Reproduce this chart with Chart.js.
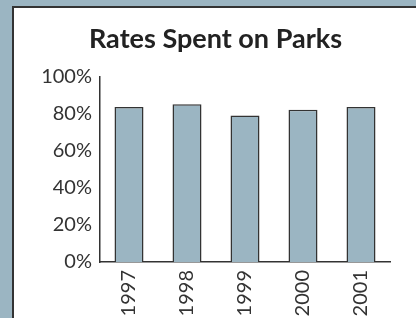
<!DOCTYPE html>
<html>
<head>
<meta charset="utf-8">
<script src="https://cdn.jsdelivr.net/npm/chart.js@4"></script>
<style>
  html, body { margin: 0; padding: 0; }
  body { width: 416px; height: 318px; background: #9bb5c2; overflow: hidden; position: relative; }
  #panel {
    position: absolute; left: 12px; top: 6px;
    width: 404px; height: 312px;
    background: #fff;
    border-left: 2px solid #333;
    border-top: 2px solid #333;
  }
</style>
</head>
<body>
<div id="panel">
  <canvas id="parksChart" width="402" height="310"></canvas>
</div>
<script>
const years = ["1997", "1998", "1999", "2000", "2001"];
const percentSpent = [83.5, 85, 79, 82, 83.5];
const yTicks = [0, 20, 40, 60, 80, 100];

const ctx = document
    .getElementById("parksChart")
    .getContext("2d");

const font = "Lato, 'Noto Sans', sans-serif";

const chart = new Chart(ctx, {

    type: "bar",

    data: {
        labels: years,

        datasets: [{
            label: "Rates Spent on Parks",
            data: percentSpent,
            backgroundColor: "#9bb5c2",
            borderColor: "#333",
            borderWidth: 1.5,
            barPercentage: 0.5,
            categoryPercentage: 1
        }]
    },

    options: {
        responsive: false,
        animation: false,

        layout: {
            padding: { left: 27, right: 26, top: 0, bottom: 0 }
        },

        plugins: {
            legend: { display: false },
            tooltip: { enabled: false },
            title: {
                display: true,
                text: "Rates Spent on Parks",
                color: "#222",
                font: { family: font, size: 27, weight: "bold" },
                padding: { top: 15, bottom: 21 }
            }
        },

        scales: {
            x: {
                grid: { display: false, drawTicks: false },
                border: { color: "#333", width: 1.5 },
                ticks: {
                    color: "#333",
                    minRotation: 90,
                    maxRotation: 90,
                    padding: 8,
                    font: { family: font, size: 20 }
                },
                afterFit: (scale) => { scale.height = 56; }
            },
            y: {
                min: 0,
                max: 100,
                grid: { display: false, drawTicks: false },
                border: { color: "#333", width: 1.5 },
                afterBuildTicks: (scale) => {
                    scale.ticks = yTicks.map(v => ({ value: v }));
                },
                ticks: {
                    color: "#333",
                    padding: 8,
                    font: { family: font, size: 20 },
                    callback: (v) => v + "%"
                },
                afterFit: (scale) => { scale.width = 59; }
            }
        }
    }
});
</script>
</body>
</html>
